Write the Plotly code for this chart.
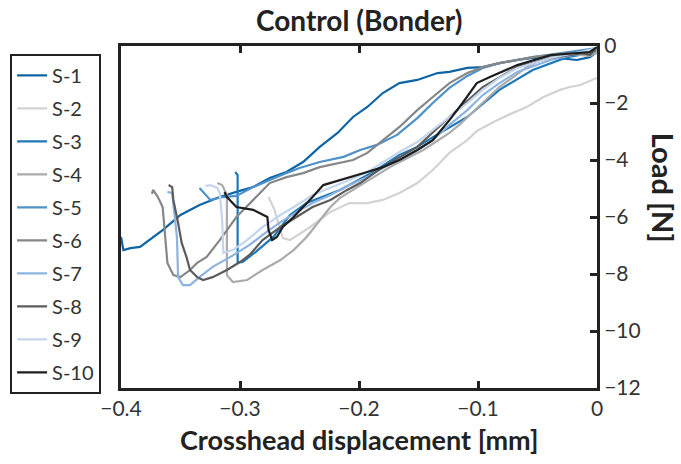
import plotly.graph_objects as go

# ---- data (Crosshead displacement [mm], Load [N]) ----
s1_x = [0, -0.006, -0.017, -0.039, -0.054, -0.067, -0.082, -0.096, -0.109, -0.124, -0.134, -0.151, -0.166, -0.180, -0.193, -0.205, -0.218, -0.233, -0.247, -0.261, -0.275, -0.289, -0.303, -0.317, -0.334, -0.350, -0.365, -0.384, -0.392, -0.398, -0.400]
s1_y = [-0.21, -0.39, -0.49, -0.39, -0.42, -0.49, -0.60, -0.74, -0.77, -0.91, -0.95, -1.19, -1.30, -1.65, -2.14, -2.49, -3.05, -3.54, -4.07, -4.42, -4.63, -4.95, -5.12, -5.30, -5.58, -5.93, -6.46, -7.05, -7.09, -7.16, -6.70]

s2_x = [0, -0.006, -0.014, -0.023, -0.031, -0.045, -0.059, -0.073, -0.087, -0.101, -0.109, -0.124, -0.138, -0.151, -0.166, -0.180, -0.193, -0.208, -0.224, -0.241, -0.258, -0.264, -0.271, -0.276]
s2_y = [-1.12, -1.23, -1.37, -1.44, -1.54, -1.79, -2.14, -2.39, -2.67, -2.98, -3.30, -3.75, -4.35, -4.81, -5.16, -5.40, -5.51, -5.51, -5.82, -6.35, -6.81, -6.74, -5.75, -5.30]

s3_x = [0, -0.006, -0.025, -0.054, -0.082, -0.109, -0.132, -0.151, -0.166, -0.188, -0.216, -0.244, -0.258, -0.272, -0.287, -0.298, -0.302, -0.302, -0.304]
s3_y = [-0.14, -0.25, -0.39, -0.84, -1.54, -2.49, -3.05, -3.54, -3.82, -4.42, -5.05, -5.51, -5.93, -6.70, -7.23, -7.58, -7.58, -4.53, -4.42]

s4_x = [0, -0.006, -0.023, -0.042, -0.059, -0.071, -0.082, -0.098, -0.115, -0.124, -0.146, -0.174, -0.199, -0.216, -0.224, -0.233, -0.244, -0.255, -0.266, -0.281, -0.294, -0.306, -0.311, -0.311, -0.315, -0.319]
s4_y = [-0.21, -0.35, -0.28, -0.39, -0.74, -1.09, -1.44, -2.07, -2.74, -3.05, -3.65, -4.25, -4.88, -5.33, -5.65, -6.11, -6.70, -7.16, -7.51, -7.86, -8.21, -8.28, -8.04, -5.23, -4.88, -4.81]

s5_x = [0, -0.012, -0.031, -0.054, -0.082, -0.096, -0.109, -0.124, -0.138, -0.151, -0.168, -0.185, -0.199, -0.213, -0.233, -0.250, -0.261, -0.275, -0.289, -0.303, -0.314, -0.325, -0.331, -0.334]
s5_y = [-0.07, -0.14, -0.25, -0.39, -0.60, -0.77, -1.05, -1.47, -2.00, -2.53, -3.12, -3.47, -3.65, -3.89, -4.07, -4.28, -4.46, -4.70, -4.95, -5.26, -5.30, -5.40, -5.12, -4.98]

s6_x = [0, -0.006, -0.025, -0.054, -0.082, -0.096, -0.109, -0.124, -0.138, -0.151, -0.166, -0.180, -0.193, -0.205, -0.218, -0.233, -0.247, -0.261, -0.275, -0.289, -0.303, -0.317, -0.328, -0.336, -0.342, -0.350, -0.356, -0.361, -0.363, -0.365, -0.369, -0.373, -0.374]
s6_y = [-0.14, -0.25, -0.25, -0.39, -0.60, -0.74, -0.95, -1.30, -1.79, -2.25, -2.84, -3.30, -3.75, -4.00, -4.11, -4.25, -4.46, -4.60, -4.81, -5.40, -6.00, -6.81, -7.40, -7.61, -7.86, -8.11, -8.04, -7.61, -6.70, -5.65, -5.30, -5.05, -5.19]

s7_x = [0, -0.014, -0.039, -0.067, -0.082, -0.096, -0.109, -0.124, -0.138, -0.151, -0.166, -0.180, -0.193, -0.208, -0.224, -0.239, -0.252, -0.266, -0.281, -0.292, -0.308, -0.323, -0.334, -0.342, -0.348, -0.352, -0.353, -0.356, -0.357, -0.361]
s7_y = [-0.14, -0.25, -0.49, -0.91, -1.30, -1.72, -2.25, -2.77, -3.30, -3.65, -4.00, -4.28, -4.60, -4.88, -5.23, -5.51, -5.82, -6.18, -6.63, -6.98, -7.40, -7.75, -8.11, -8.39, -8.39, -8.11, -6.70, -5.65, -5.16, -5.12]

s8_x = [0, -0.006, -0.012, -0.039, -0.067, -0.096, -0.124, -0.151, -0.180, -0.199, -0.210, -0.224, -0.239, -0.252, -0.266, -0.281, -0.292, -0.300, -0.311, -0.323, -0.331, -0.336, -0.342, -0.345, -0.349, -0.352, -0.356, -0.357, -0.360]
s8_y = [-0.07, -0.32, -0.25, -0.42, -0.74, -1.44, -2.49, -3.54, -4.25, -4.81, -5.05, -5.40, -5.65, -6.00, -6.35, -6.81, -7.33, -7.58, -7.86, -8.11, -8.21, -8.11, -7.86, -7.40, -6.91, -6.21, -5.40, -4.95, -4.88]

s9_x = [0, -0.014, -0.039, -0.067, -0.082, -0.096, -0.109, -0.124, -0.138, -0.151, -0.166, -0.180, -0.193, -0.208, -0.224, -0.239, -0.252, -0.266, -0.281, -0.294, -0.306, -0.314, -0.315, -0.317, -0.319, -0.325, -0.329]
s9_y = [-0.07, -0.21, -0.42, -0.77, -1.12, -1.54, -2.00, -2.49, -2.95, -3.37, -3.72, -4.07, -4.42, -4.70, -4.98, -5.23, -5.58, -5.93, -6.35, -6.81, -7.16, -7.26, -6.11, -5.16, -4.98, -4.88, -4.91]

s10_x = [0, -0.006, -0.039, -0.067, -0.090, -0.101, -0.113, -0.124, -0.138, -0.151, -0.166, -0.180, -0.193, -0.208, -0.216, -0.230, -0.239, -0.247, -0.255, -0.264, -0.269, -0.273, -0.276, -0.277, -0.289, -0.303, -0.311, -0.313]
s10_y = [-0.04, -0.21, -0.32, -0.67, -1.09, -1.30, -2.00, -2.60, -3.30, -3.65, -4.00, -4.25, -4.42, -4.60, -4.70, -4.88, -5.30, -5.65, -6.00, -6.35, -6.70, -6.81, -6.46, -6.00, -5.75, -5.65, -5.30, -5.12]

names = ["S-1", "S-2", "S-3", "S-4", "S-5", "S-6", "S-7", "S-8", "S-9", "S-10"]
xs = [s1_x, s2_x, s3_x, s4_x, s5_x, s6_x, s7_x, s8_x, s9_x, s10_x]
ys = [s1_y, s2_y, s3_y, s4_y, s5_y, s6_y, s7_y, s8_y, s9_y, s10_y]
colors = ["#0f64a6", "#d3d3d3", "#1f78b8", "#ababab", "#4f91c9",
          "#878787", "#8db4df", "#5c5c5c", "#c3d6ee", "#1e1e1e"]

x_ticks = [-0.4, -0.3, -0.2, -0.1, 0]
x_ticktext = ["\u22120.4", "\u22120.3", "\u22120.2", "\u22120.1", "0"]
y_ticks = [0, -2, -4, -6, -8, -10, -12]
y_ticktext = ["0", "\u22122", "\u22124", "\u22126", "\u22128", "\u221210", "\u221212"]

FONT = "Lato, 'Open Sans', sans-serif"
INK = "#222222"

fig = go.Figure()
for n, x, y, c in zip(names, xs, ys, colors):
    fig.add_trace(go.Scatter(x=x, y=y, mode="lines", name=n,
                             line=dict(color=c, width=2.2), legendgroup=n))

fig.update_layout(
    width=681, height=464,
    margin=dict(l=121, r=84, t=46, b=76, autoexpand=False),
    paper_bgcolor="white", plot_bgcolor="white",
    font=dict(family=FONT, size=21, color="#333333"),
    showlegend=True,
    legend=dict(x=-0.233, xanchor="left", y=0.977, yanchor="top",
                bordercolor=INK, borderwidth=2, bgcolor="white",
                font=dict(size=20, color="#333333"), tracegroupgap=4),
    xaxis=dict(range=[-0.4, 0], tickvals=x_ticks, ticktext=x_ticktext,
               showline=True, linewidth=3, linecolor=INK, mirror="ticks",
               ticks="inside", ticklen=7, tickwidth=3, tickcolor=INK,
               showgrid=False, zeroline=False),
    yaxis=dict(range=[-12, 0], tickvals=y_ticks, ticktext=y_ticktext, side="right",
               showline=True, linewidth=3, linecolor=INK, mirror=True,
               ticks="inside", ticklen=7, tickwidth=3, tickcolor=INK,
               showgrid=False, zeroline=False),
    annotations=[
        dict(text="<b>Control (Bonder)</b>", x=0.5, y=1.076, xref="paper", yref="paper",
             xanchor="center", yanchor="middle",
             showarrow=False, font=dict(size=28, color=INK)),
        dict(text="<b>Crosshead displacement [mm]</b>", x=0.5, y=-0.152, xref="paper",
             yref="paper", xanchor="center", yanchor="middle",
             showarrow=False, font=dict(size=27, color=INK)),
        dict(text="<b>Load [N]</b>", x=1.139, y=0.585, xref="paper", yref="paper",
             xanchor="center", yanchor="middle",
             textangle=90, showarrow=False, font=dict(size=29, color=INK)),
    ],
)

fig.write_html("out.html", config={"displayModeBar": False},
               post_script="document.body.style.margin='0';document.body.style.padding='0';")
